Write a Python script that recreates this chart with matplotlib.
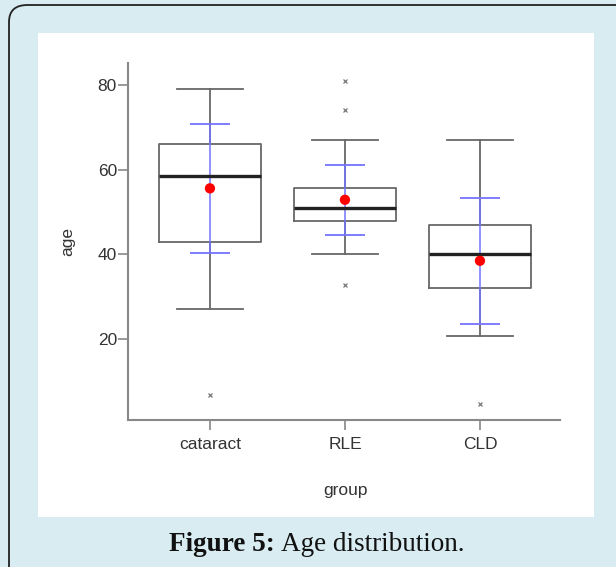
import matplotlib
matplotlib.use("Agg")
import matplotlib.pyplot as plt
from matplotlib.patches import FancyBboxPatch, Rectangle

groups = ["cataract", "RLE", "CLD"]
whislo = [27, 40, 20.8]
q1 = [43, 47.8, 32]
med = [58.5, 51, 40]
q3 = [66, 55.8, 47]
whishi = [79, 67, 67]
fliers = [[6.7], [81, 74, 32.7], [4.7]]
means = [55.6, 52.9, 38.5]
sd_lo = [40.4, 44.5, 23.5]
sd_hi = [70.7, 61.2, 53.3]
yticks = [20, 40, 60, 80]

W, H = 616, 567
fig = plt.figure(figsize=(W / 100, H / 100), dpi=100)
fig.patch.set_facecolor("#d8ecf1")

# outer rounded frame and white panel (pixel coords -> figure fraction)
def fx(px):
    return px / W

def fy(py):
    return 1 - py / H

frame = FancyBboxPatch((fx(9), fy(600)), fx(700), 595 / H,
                       boxstyle="round,pad=0,rounding_size=0.03",
                       transform=fig.transFigure, facecolor="#d8ecf1",
                       edgecolor="#222222", lw=1.3, zorder=0)
fig.patches.append(frame)
panel = Rectangle((fx(38), fy(517)), fx(594 - 38), (517 - 33) / H,
                  transform=fig.transFigure, facecolor="white",
                  edgecolor="none", zorder=1)
fig.patches.append(panel)

ax = fig.add_axes([fx(128), fy(420), fx(560 - 128), (420 - 63) / H])
ax.set_facecolor("none")
ax.set_zorder(3)

pos = [1, 2, 3]
stats = []
for i in range(3):
    stats.append(dict(whislo=whislo[i], q1=q1[i], med=med[i], q3=q3[i],
                      whishi=whishi[i], fliers=fliers[i]))

gray = "#686868"
ax.bxp(stats, positions=pos, widths=0.755, capwidths=0.49, showfliers=True,
       boxprops=dict(color=gray, lw=1.3),
       whiskerprops=dict(color=gray, lw=1.3),
       capprops=dict(color=gray, lw=1.3),
       medianprops=dict(color="#222222", lw=2.4, zorder=4),
       flierprops=dict(marker="x", markersize=3.5, markeredgecolor="#777777",
                       markeredgewidth=0.9))

blue = "#7474ff"
ax.vlines(pos, sd_lo, sd_hi, color=blue, lw=1.1, zorder=3)
ax.hlines(sd_lo, [p - 0.148 for p in pos], [p + 0.148 for p in pos],
          color=blue, lw=1.3, zorder=3)
ax.hlines(sd_hi, [p - 0.148 for p in pos], [p + 0.148 for p in pos],
          color=blue, lw=1.3, zorder=3)
ax.scatter(pos, means, s=55, color="#ff0000", zorder=5, edgecolors="none")

ax.set_xlim(0.393, 3.593)
ax.set_ylim(0.9, 85.2)
ax.set_yticks(yticks)
ax.set_xticks(pos)
ax.set_xticklabels(groups)
for s in ["top", "right"]:
    ax.spines[s].set_visible(False)
for s in ["left", "bottom"]:
    ax.spines[s].set_color("#888888")
    ax.spines[s].set_linewidth(1.5)
ax.tick_params(axis="both", direction="out", length=7, width=1.2,
               color="#888888", labelcolor="#333333", labelsize=12.5)
ax.tick_params(axis="y", pad=1)
ax.tick_params(axis="x", pad=5)
for lab in ax.get_xticklabels() + ax.get_yticklabels():
    lab.set_family("Liberation Sans")

fig.text(fx(68), fy(242), "age", rotation=90, ha="center", va="center",
         fontsize=12.5, color="#333333", family="Liberation Sans")
fig.text(fx(345), fy(490), "group", ha="center", va="center",
         fontsize=12.5, color="#333333", family="Liberation Sans")

fig.text(fx(275), fy(551), "Figure 5:", ha="right", va="baseline",
         fontsize=19.5, fontweight="bold", color="#111111",
         family="Liberation Serif")
fig.text(fx(281), fy(551), "Age distribution.", ha="left", va="baseline",
         fontsize=19.5, color="#111111", family="Liberation Serif")

fig.savefig("out.png", dpi=100, facecolor=fig.get_facecolor())
